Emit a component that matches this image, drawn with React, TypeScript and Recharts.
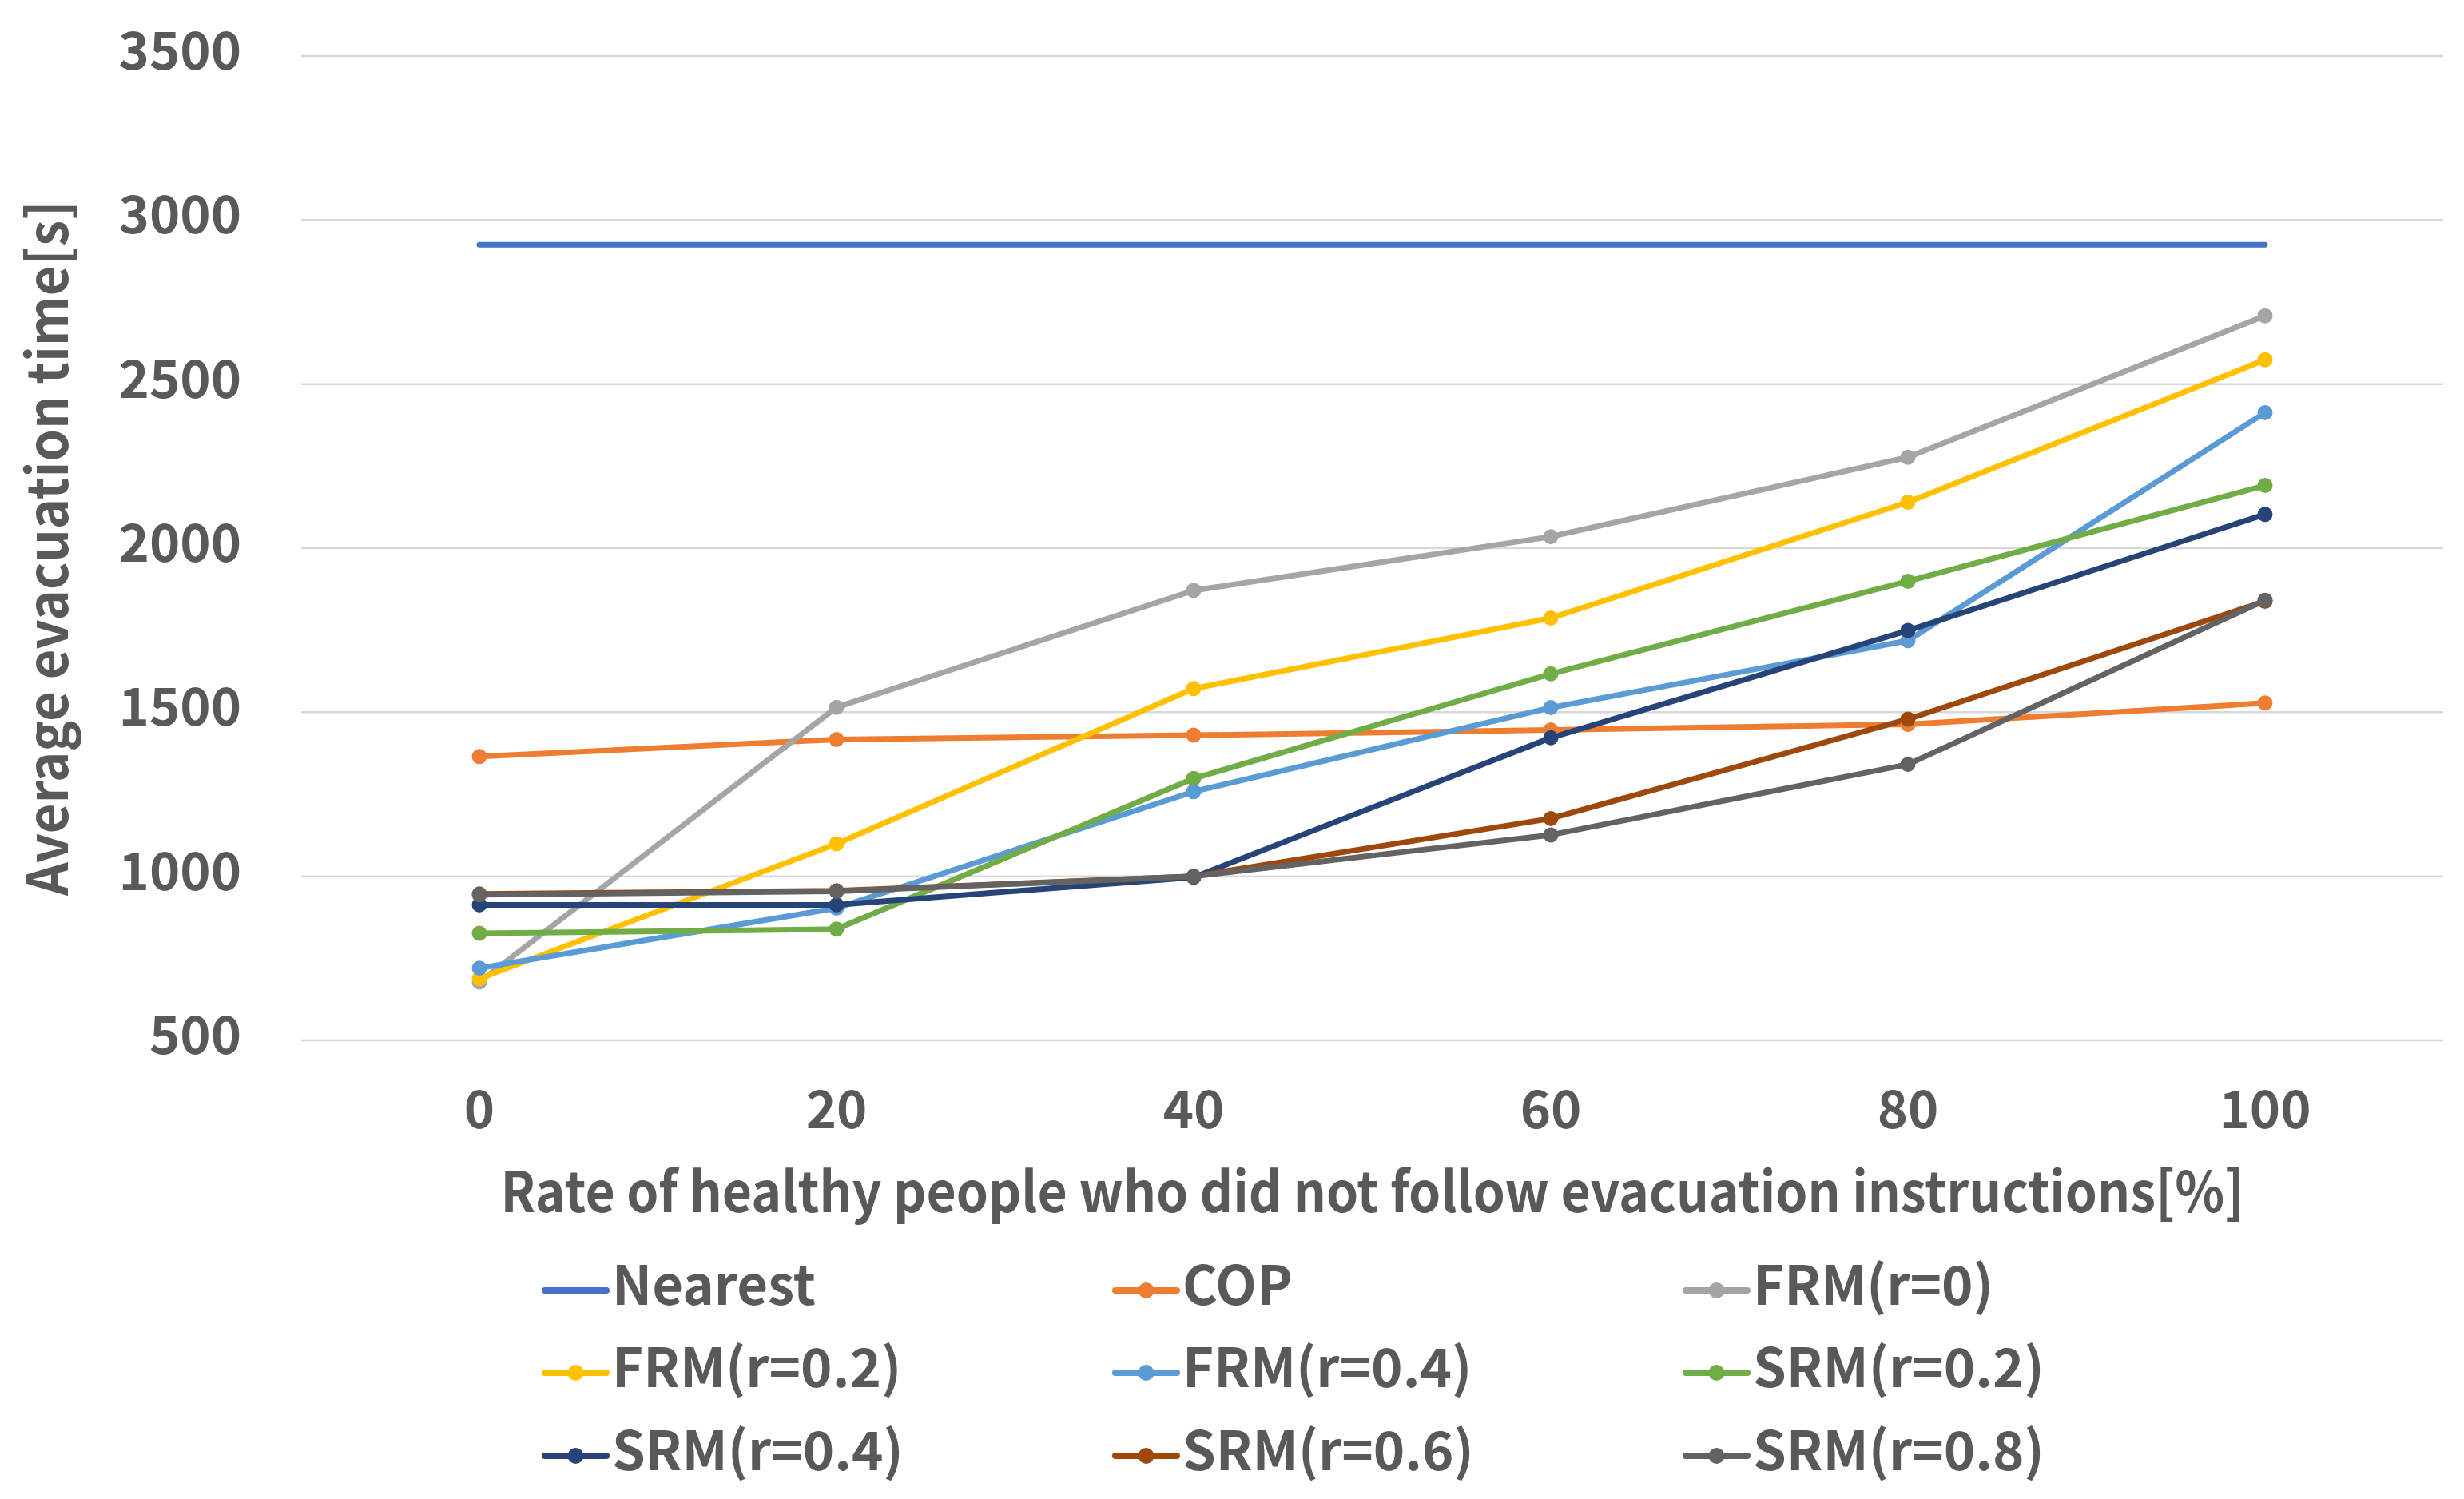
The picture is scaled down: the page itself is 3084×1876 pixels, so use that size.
import { LineChart, Line, XAxis, YAxis, CartesianGrid, Legend, Label } from "recharts";

const rates = [0, 20, 40, 60, 80, 100];

const nearest = [2925, 2925, 2925, 2925, 2925, 2925];
const cop = [1365, 1417, 1430, 1446, 1463, 1528];
const frm0 = [678, 1515, 1871, 2035, 2277, 2708];
const frm02 = [688, 1099, 1572, 1787, 2140, 2574];
const frm04 = [720, 903, 1258, 1514, 1718, 2413];
const srm02 = [826, 839, 1298, 1617, 1899, 2191];
const srm04 = [913, 913, 997, 1422, 1749, 2103];
const srm06 = [946, 956, 1000, 1176, 1479, 1838];
const srm08 = [944, 954, 1000, 1126, 1341, 1841];

const yTicks = [500, 1000, 1500, 2000, 2500, 3000, 3500];

const series = [
  { key: "Nearest", values: nearest, color: "#4472C4", dot: false },
  { key: "COP", values: cop, color: "#ED7D31", dot: true },
  { key: "FRM(r=0)", values: frm0, color: "#A5A5A5", dot: true },
  { key: "FRM(r=0.2)", values: frm02, color: "#FFC000", dot: true },
  { key: "FRM(r=0.4)", values: frm04, color: "#5B9BD5", dot: true },
  { key: "SRM(r=0.2)", values: srm02, color: "#70AD47", dot: true },
  { key: "SRM(r=0.4)", values: srm04, color: "#264478", dot: true },
  { key: "SRM(r=0.6)", values: srm06, color: "#9E480E", dot: true },
  { key: "SRM(r=0.8)", values: srm08, color: "#636363", dot: true },
];

const data = rates.map((r, i) => {
  const row: Record<string, number> = { rate: r };
  series.forEach((s) => (row[s.key] = s.values[i]));
  return row;
});

const FONT = "'Noto Sans CJK JP', 'Noto Sans', sans-serif";
const TEXT = "#595959";

function YTick(props: any) {
  const { x, y, payload } = props;
  return (
    <text x={x} y={y + 17} textAnchor="end" fontFamily={FONT} fontWeight={700} fontSize={65} fill={TEXT}>
      {payload.value}
    </text>
  );
}

function XTick(props: any) {
  const { x, y, payload } = props;
  return (
    <text x={x} y={y + 110} textAnchor="middle" fontFamily={FONT} fontWeight={700} fontSize={65} fill={TEXT}>
      {payload.value}
    </text>
  );
}

function LegendGrid() {
  const colX = [682, 1396, 2110];
  const rowY = [115, 218, 322];
  return (
    <svg width={3084} height={376}>
      {series.map((s, i) => {
        const cx = colX[i % 3];
        const cy = rowY[Math.floor(i / 3)];
        return (
          <g key={s.key}>
            <line x1={cx} y1={cy} x2={cx + 77} y2={cy} stroke={s.color} strokeWidth={8} strokeLinecap="round" />
            {s.dot && <circle cx={cx + 38.5} cy={cy} r={10} fill={s.color} />}
            <text x={cx + 84} y={cy + 18} fontFamily={FONT} fontWeight={700} fontSize={67} fill={TEXT}>
              {s.key}
            </text>
          </g>
        );
      })}
    </svg>
  );
}

export default function App() {
  return (
    <div style={{ position: "absolute", left: 0, top: 0, background: "#fff" }}>
      <LineChart width={3084} height={1876} data={data} margin={{ top: 70, right: 26, left: 0, bottom: 0 }}>
        <CartesianGrid vertical={false} stroke="#D9D9D9" strokeWidth={2.5} />
        <XAxis
          dataKey="rate"
          type="category"
          height={574}
          padding={{ left: 223, right: 223 }}
          axisLine={false}
          tickLine={false}
          tickSize={0}
          tickMargin={0}
          tick={<XTick />}
        >
          <Label
            content={(p: any) => {
              const vb = p.viewBox;
              return (
                <text
                  x={vb.x + vb.width / 2}
                  y={vb.y + 215}
                  textAnchor="middle"
                  fontFamily={FONT}
                  fontWeight={700}
                  fontSize={70}
                  fill={TEXT}
                  textLength={2182}
                  lengthAdjust="spacingAndGlyphs"
                >
                  Rate of healthy people who did not follow evacuation instructions[%]
                </text>
              );
            }}
          />
        </XAxis>
        <YAxis
          width={377}
          domain={[500, 3500]}
          ticks={yTicks}
          interval={0}
          axisLine={false}
          tickLine={false}
          tickSize={0}
          tickMargin={75}
          tick={<YTick />}
        >
          <Label
            content={(p: any) => {
              const vb = p.viewBox;
              const cy = vb.y + vb.height / 2;
              return (
                <text
                  x={85}
                  y={cy}
                  transform={`rotate(-90, 85, ${cy})`}
                  textAnchor="middle"
                  fontFamily={FONT}
                  fontWeight={700}
                  fontSize={70}
                  fill={TEXT}
                  textLength={870}
                  lengthAdjust="spacingAndGlyphs"
                >
                  Average evacuation time[s]
                </text>
              );
            }}
          />
        </YAxis>
        <Legend
          layout="horizontal"
          verticalAlign="middle"
          align="center"
          wrapperStyle={{ position: "absolute", left: 0, top: 1500, width: 3084, height: 376 }}
          content={() => <LegendGrid />}
        />
        {series.map((s) => (
          <Line
            key={s.key}
            dataKey={s.key}
            stroke={s.color}
            strokeWidth={7}
            strokeLinecap="round"
            strokeLinejoin="round"
            dot={s.dot ? { r: 9.5, fill: s.color, stroke: s.color, strokeWidth: 0 } : false}
            activeDot={false}
            isAnimationActive={false}
          />
        ))}
      </LineChart>
    </div>
  );
}
